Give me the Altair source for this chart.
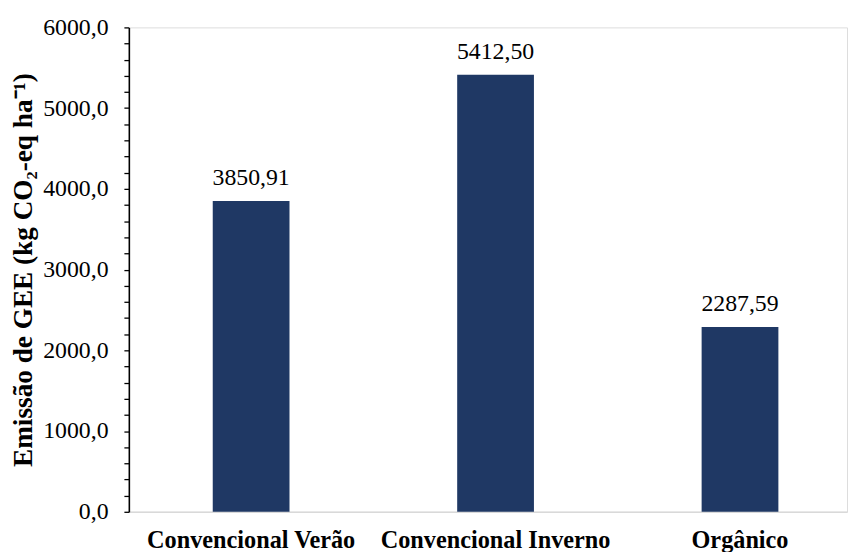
import altair as alt
import pandas as pd

categories = ["Convencional Verão", "Convencional Inverno", "Orgânico"]
values = [3850.91, 5412.50, 2287.59]
y_ticks = list(range(0, 6001, 200))

df = pd.DataFrame({"cat": categories, "v": values})

FONT = "Liberation Serif"
FS = 24
BAR = "#1F3864"

x = alt.X(
    "cat:N",
    sort=categories,
    title=None,
    scale=alt.Scale(paddingInner=0.686, paddingOuter=0.312, align=0.55),
    axis=alt.Axis(
        labelAngle=0,
        labelFont=FONT,
        labelFontSize=24.5,
        labelFontWeight="bold",
        labelColor="black",
        labelBaseline="alphabetic",
        labelPadding=36,
        labelLimit=0,
        ticks=False,
        domainColor="#D9D9D9",
        domainWidth=1.5,
        labelOverlap=False,
    ),
)

y = alt.Y(
    "v:Q",
    title="Emissão de GEE (kg CO₂-eq ha⁻¹)",
    scale=alt.Scale(domain=[0, 6000], nice=False),
    axis=alt.Axis(
        values=y_ticks,
        tickCount=100,
        labelExpr="datum.value % 1000 == 0 ? replace(format(datum.value, '.1f'), '.', ',') : ''",
        labelFont=FONT,
        labelFontSize=FS,
        labelColor="black",
        labelPadding=16,
        labelOverlap=False,
        tickSize=5,
        tickColor="black",
        tickWidth=1.3,
        domainColor="black",
        domainWidth=1.6,
        grid=False,
        titleFont=FONT,
        titleFontSize=27.5,
        titleFontWeight="bold",
        titleColor="black",
        titleAngle=270,
        titleBaseline="alphabetic",
        titleAlign="center",
        titleX=-98,
        titleY=244.5,
    ),
)

bars = alt.Chart(df).mark_bar(color=BAR).encode(x=x, y=y)

labels = alt.Chart(df).transform_calculate(
    lab="replace(format(datum.v, '.2f'), '.', ',')"
).mark_text(
    font=FONT, fontSize=FS, color="black", baseline="alphabetic", dy=-16
).encode(x=alt.X("cat:N", sort=categories), y="v:Q", text="lab:N")

chart = (
    alt.layer(bars, labels)
    .properties(
        width=725,
        height=489,
        autosize=alt.AutoSizeParams(type="none"),
        padding={"left": 122, "top": 17, "right": 2, "bottom": 38},
    )
    .configure_view(stroke=None)
    .configure(background="white")
)

chart.save("out.html", embed_options={"renderer": "svg", "actions": False})
